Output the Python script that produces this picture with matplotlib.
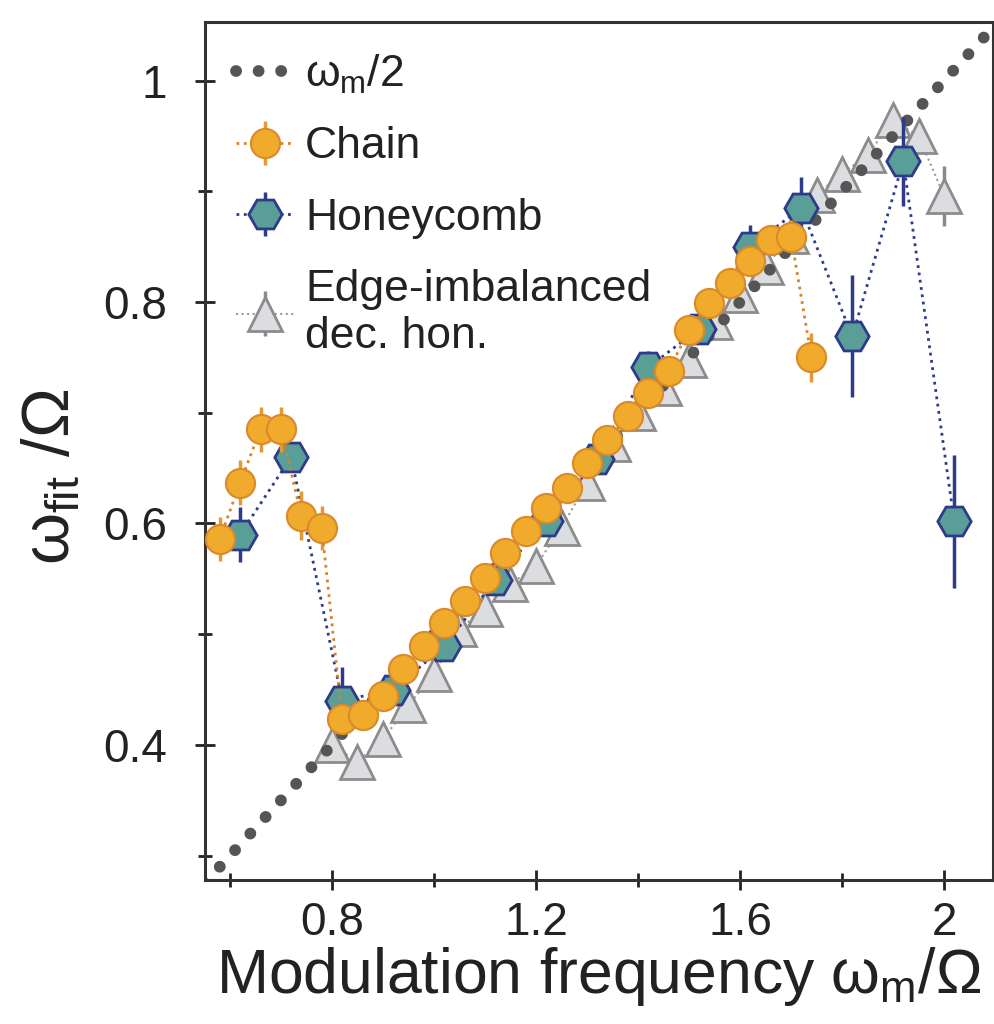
import numpy as np
import matplotlib
matplotlib.use('Agg')
import matplotlib.pyplot as plt
from matplotlib.ticker import FixedLocator, FuncFormatter

plt.rcParams['font.family'] = ['Liberation Sans', 'DejaVu Sans']
plt.rcParams['mathtext.fontset'] = 'custom'
plt.rcParams['mathtext.rm'] = 'Liberation Sans'
plt.rcParams['mathtext.it'] = 'Liberation Sans'

# chain (orange circles)
chain_x = [0.58, 0.62, 0.66, 0.70, 0.74, 0.78, 0.82, 0.86, 0.90, 0.94, 0.98, 1.02, 1.06, 1.10, 1.14,
           1.18, 1.22, 1.26, 1.30, 1.34, 1.38, 1.42, 1.46, 1.50, 1.54, 1.58, 1.62, 1.66, 1.70, 1.74]
chain_y = [0.586, 0.637, 0.685, 0.685, 0.607, 0.596, 0.423, 0.427, 0.444, 0.469, 0.489, 0.510, 0.530, 0.551, 0.573,
           0.593, 0.614, 0.632, 0.655, 0.675, 0.697, 0.718, 0.738, 0.775, 0.799, 0.817, 0.837, 0.856, 0.859, 0.750]
chain_err = [0.02, 0.02, 0.02, 0.02, 0.022, 0.02, 0.01, 0.01, 0.01, 0.01, 0.01, 0.01, 0.01, 0.01, 0.01,
             0.01, 0.01, 0.01, 0.01, 0.01, 0.01, 0.01, 0.01, 0.012, 0.01, 0.01, 0.01, 0.01, 0.015, 0.022]

# honeycomb (teal hexagons)
hon_x = [0.62, 0.72, 0.82, 0.92, 1.02, 1.12, 1.22, 1.32, 1.42, 1.52, 1.62, 1.72, 1.82, 1.92, 2.02]
hon_y = [0.590, 0.660, 0.440, 0.450, 0.489, 0.549, 0.602, 0.658, 0.741, 0.776, 0.850, 0.885, 0.769, 0.927, 0.602]
hon_err = [0.025, 0.012, 0.03, 0.01, 0.01, 0.01, 0.01, 0.01, 0.015, 0.01, 0.02, 0.028, 0.055, 0.04, 0.06]

# edge-imbalanced decorated honeycomb (grey triangles)
edge_x = [0.80, 0.85, 0.90, 0.95, 1.00, 1.05, 1.10, 1.15, 1.20, 1.25, 1.30, 1.35, 1.40,
          1.45, 1.50, 1.55, 1.60, 1.65, 1.70, 1.75, 1.80, 1.85, 1.90, 1.95, 2.00]
edge_y = [0.400, 0.385, 0.405, 0.436, 0.464, 0.505, 0.523, 0.545, 0.562, 0.596, 0.637, 0.672, 0.700,
          0.722, 0.748, 0.782, 0.806, 0.832, 0.860, 0.897, 0.916, 0.933, 0.964, 0.950, 0.896]
edge_err = [0.016, 0.01, 0.01, 0.01, 0.01, 0.01, 0.01, 0.01, 0.01, 0.01, 0.01, 0.01, 0.01,
            0.01, 0.01, 0.01, 0.01, 0.01, 0.01, 0.01, 0.01, 0.01, 0.012, 0.015, 0.027]

line_x = [0.55, 2.10]

fig = plt.figure(figsize=(9.95, 10.24), dpi=100)
ax = fig.add_axes([0.206, 0.1406, 0.792, 0.838])

ax.plot(line_x, [v / 2 for v in line_x], color='#555555', lw=8.5,
        linestyle=(0, (0.01, 1.9)), dash_capstyle='round', zorder=2, label=r'$\omega_{\rm m}/2$')

ax.errorbar(edge_x, edge_y, yerr=edge_err, fmt='^', ls=':', lw=1.5, color='#9a9a9a',
            ecolor='#8a8a8a', elinewidth=2.5, capsize=0, ms=24, mfc='#dcdde0', mec='#8c8c8c',
            mew=2, zorder=1, label='Edge-imbalanced\ndec. hon.')
ax.errorbar(hon_x, hon_y, yerr=hon_err, fmt='H', ls=':', lw=2, color='#2e3a8a',
            ecolor='#2e3a8a', elinewidth=2.5, capsize=0, ms=24, mfc='#5a9e98', mec='#2e3a8a',
            mew=2, zorder=3, label='Honeycomb')
ax.errorbar(chain_x, chain_y, yerr=chain_err, fmt='o', ls=':', lw=2, color='#d9822b',
            ecolor='#e39a35', elinewidth=2.5, capsize=0, ms=21, mfc='#f0aa2c', mec='#d98a2a',
            mew=1.5, zorder=4, label='Chain')

ax.set_xlim(0.551, 2.096)
ax.set_ylim(0.278, 1.053)

ax.xaxis.set_major_locator(FixedLocator([0.8, 1.2, 1.6, 2.0]))
ax.xaxis.set_minor_locator(FixedLocator([0.6, 1.0, 1.4, 1.8]))
ax.yaxis.set_major_locator(FixedLocator([0.4, 0.6, 0.8, 1.0]))
ax.yaxis.set_minor_locator(FixedLocator([0.3, 0.5, 0.7, 0.9]))
fmt = FuncFormatter(lambda v, p: '{:g}'.format(round(v, 2)))
ax.xaxis.set_major_formatter(fmt)
ax.yaxis.set_major_formatter(fmt)
ax.tick_params(which='major', direction='inout', length=14, width=2, labelsize=33,
               color='#222222', labelcolor='#222222')
ax.tick_params(axis='y', which='major', pad=20)
ax.tick_params(axis='x', which='major', pad=8)
ax.tick_params(which='minor', direction='inout', length=10, width=2, color='#222222')
for s in ax.spines.values():
    s.set_linewidth(2.2)
    s.set_color('#333333')

ax.set_xlabel(r'Modulation frequency $\omega_{\rm m}/\Omega$', fontsize=45, color='#222222', labelpad=0)
ax.set_ylabel(r'$\omega_{\rm fit}$ /$\Omega$', fontsize=48, color='#222222')
ax.yaxis.set_label_coords(-0.155, 0.47)

h, l = ax.get_legend_handles_labels()
order = [0, 3, 2, 1]
ax.legend([h[i] for i in order], [l[i] for i in order], loc='upper left', fontsize=32,
          frameon=False, handlelength=1.3, handletextpad=0.25, labelspacing=0.68,
          borderaxespad=0.3, labelcolor='#222222')

fig.savefig('out.png', dpi=100)
